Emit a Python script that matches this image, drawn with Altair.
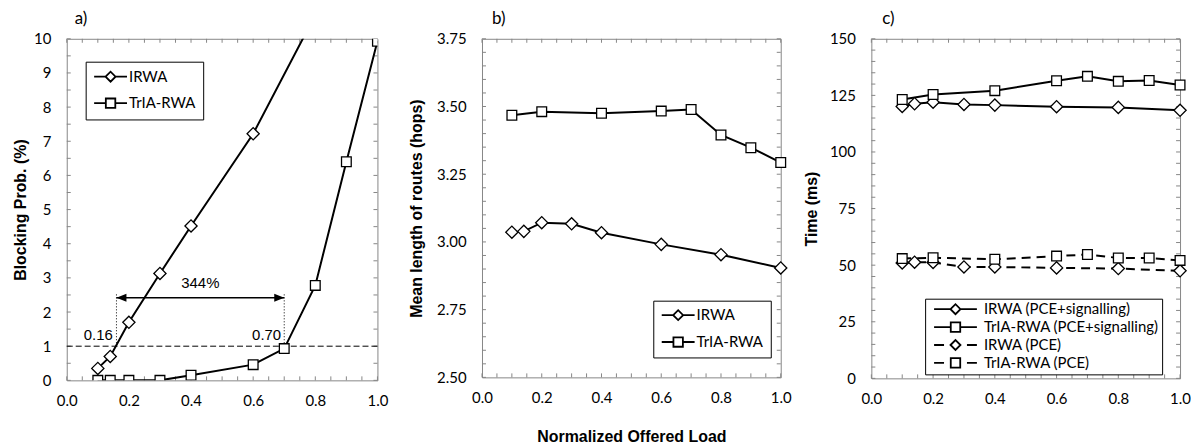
import altair as alt
import pandas as pd

# ---------------- data ----------------
series_ab = ["IRWA", "TrIA-RWA"]
series_c = ["IRWA (PCE+signalling)", "TrIA-RWA (PCE+signalling)", "IRWA (PCE)", "TrIA-RWA (PCE)"]

a_irwa_x = [0.1, 0.14, 0.2, 0.3, 0.4, 0.6, 0.8]
a_irwa_y = [0.35, 0.70, 1.70, 3.13, 4.52, 7.22, 10.7]
a_tria_x = [0.1, 0.14, 0.2, 0.3, 0.4, 0.6, 0.7, 0.8, 0.9, 1.0]
a_tria_y = [0.0, 0.0, 0.0, 0.0, 0.15, 0.46, 0.93, 2.78, 6.40, 9.93]
a_threshold = 1.0
a_marks_x = [0.16, 0.70]
a_marks_text = ["0.16", "0.70"]
a_gain_text = "344%"

b_irwa_x = [0.1, 0.14, 0.2, 0.3, 0.4, 0.6, 0.8, 1.0]
b_irwa_y = [3.036, 3.039, 3.071, 3.067, 3.034, 2.991, 2.953, 2.904]
b_tria_x = [0.1, 0.2, 0.4, 0.6, 0.7, 0.8, 0.9, 1.0]
b_tria_y = [3.468, 3.481, 3.475, 3.483, 3.489, 3.395, 3.348, 3.293]

c_irwa_x = [0.1, 0.14, 0.2, 0.3, 0.4, 0.6, 0.8, 1.0]
c_irwa_sig = [120.1, 121.3, 122.0, 121.0, 120.7, 120.0, 119.7, 118.4]
c_irwa_pce = [51.0, 51.3, 51.2, 49.2, 49.2, 48.8, 48.5, 47.5]
c_tria_x = [0.1, 0.2, 0.4, 0.6, 0.7, 0.8, 0.9, 1.0]
c_tria_sig = [123.2, 125.4, 127.1, 131.5, 133.4, 131.2, 131.6, 129.6]
c_tria_pce = [52.9, 53.3, 52.6, 54.0, 54.7, 53.2, 53.2, 52.1]

x_major = [0.0, 0.2, 0.4, 0.6, 0.8, 1.0]
x_minor = [round(0.05 * i, 2) for i in range(21)]
a_y_major = [0, 1, 2, 3, 4, 5, 6, 7, 8, 9, 10]
a_y_minor = [0.5 * i for i in range(21)]
b_y_major = [2.5, 2.75, 3.0, 3.25, 3.5, 3.75]
b_y_minor = [round(2.5 + 0.05 * i, 2) for i in range(26)]
c_y_major = [0, 25, 50, 75, 100, 125, 150]
c_y_minor = [5 * i for i in range(31)]

GRAY = "#868686"
TICK = 4

leg_ab_paths = ["M-3.3,0H-1M1,0H3.3M-1,0L0,-1L1,0L0,1Z",
                "M-3.3,0H-0.95M0.95,0H3.3M-0.95,-0.95H0.95V0.95H-0.95Z"]
leg_c_paths = ["M-4.3,0H-1M1,0H4.3M-1,0L0,-1L1,0L0,1Z",
               "M-4.3,0H-0.95M0.95,0H4.3M-0.95,-0.95H0.95V0.95H-0.95Z",
               "M-4.3,0H-2.3M2.3,0H4.3M-1,0L0,-1L1,0L0,1Z",
               "M-4.3,0H-2.3M2.3,0H4.3M-0.95,-0.95H0.95V0.95H-0.95Z"]


def long_df(pairs):
    rows = []
    for name, mk, xs, ys in pairs:
        for xv, yv in zip(xs, ys):
            rows.append({"x": xv, "y": yv, "s": name, "mk": mk})
    return pd.DataFrame(rows)


def label_expr(major, fmt):
    return "indexof(%s, datum.value) >= 0 ? format(datum.value, '%s') : ''" % (str(major), fmt)


def axis_bottom(w, title=None):
    kw = dict(orient="bottom", values=x_major, labelExpr=label_expr(x_major, ".1f"),
              ticks=False, domain=False, grid=False, labelPadding=13, labelOverlap=False,
              labelFlush=False, title=title)
    if title:
        kw.update(titleX=w / 2, titleY=51, titleBaseline="top", titleAlign="center")
    return alt.Axis(**kw)


def axis_left(major, fmt, title, tx, h):
    return alt.Axis(orient="left", values=major, labelExpr=label_expr(major, fmt),
                    ticks=False, domain=False, grid=False, labelPadding=16,
                    labelOverlap=False, labelFlush=False, title=title,
                    titleX=tx, titleY=h / 2, titleAngle=270, titleAlign="center",
                    titleBaseline="middle")


XS = alt.Scale(domain=[0, 1], nice=False, zero=False)
MK_SHAPE = alt.Scale(domain=["diamond", "square"], range=["diamond", "square"])
MK_SIZE = alt.Scale(domain=["diamond", "square"], range=[150, 95])


def tick_layers(ys, y_minor, w, h):
    """Excel-style inward ticks on all four sides."""
    dx = pd.DataFrame({"v": x_minor})
    dy = pd.DataFrame({"v": y_minor})
    base = dict(color=GRAY, strokeWidth=1, opacity=1)
    xe = alt.X("v:Q", scale=XS, axis=None)
    ye = alt.Y("v:Q", scale=ys, axis=None)
    bottom = alt.Chart(dx).mark_rule(**base).encode(x=xe, y=alt.value(h - TICK), y2=alt.value(h))
    top = alt.Chart(dx).mark_rule(**base).encode(x=xe, y=alt.value(0), y2=alt.value(TICK))
    left = alt.Chart(dy).mark_rule(**base).encode(y=ye, x=alt.value(0), x2=alt.value(TICK))
    right = alt.Chart(dy).mark_rule(**base).encode(y=ye, x=alt.value(w - TICK), x2=alt.value(w))
    return [bottom, top, left, right]


def legend_layer(field, labels, paths, lx, ly, pad, row_pad, sym_off, lab_off, fs):
    df = pd.DataFrame({field: labels})
    return alt.Chart(df).transform_filter("false").mark_point(
        filled=False, color="black", strokeWidth=1.8, opacity=1
    ).encode(
        shape=alt.Shape(f"{field}:N", scale=alt.Scale(domain=labels, range=paths),
                        legend=alt.Legend(title=None, orient="none", legendX=lx, legendY=ly,
                                          padding=pad, rowPadding=row_pad,
                                          symbolOffset=sym_off, labelOffset=lab_off,
                                          labelFont="Lato", labelFontSize=fs, labelLimit=400,
                                          labelColor="black", strokeColor="black",
                                          fillColor="white", symbolSize=100,
                                          symbolStrokeWidth=1.8))
    )


def title_params(t, dx):
    return alt.TitleParams(t, anchor="start", frame="group", dx=dx, font="Lato",
                           fontSize=17, fontWeight="normal", color="black", offset=4)


def points_layer(df, ys, clip=False):
    return alt.Chart(df).mark_point(filled=True, fill="white", stroke="black", strokeWidth=1.3,
                                    opacity=1, clip=clip).encode(
        x=alt.X("x:Q", scale=XS, axis=None),
        y=alt.Y("y:Q", scale=ys, axis=None),
        shape=alt.Shape("mk:N", scale=MK_SHAPE, legend=None),
        size=alt.Size("mk:N", scale=MK_SIZE, legend=None))


# ---------------- panel a ----------------
WA, HA = 312, 343
ysa = alt.Scale(domain=[0, 10], nice=False)
dfa = long_df([("IRWA", "diamond", a_irwa_x, a_irwa_y),
               ("TrIA-RWA", "square", a_tria_x, a_tria_y)])

a_lines = alt.Chart(dfa).mark_line(color="black", strokeWidth=2, clip=True).encode(
    x=alt.X("x:Q", scale=XS, axis=axis_bottom(WA)),
    y=alt.Y("y:Q", scale=ysa, axis=axis_left(a_y_major, "d", "Blocking Prob. (%)", -46.7, HA)),
    detail="s:N")
a_points = points_layer(dfa, ysa, clip=True)

a_hline = alt.Chart(pd.DataFrame({"y": [a_threshold]})).mark_rule(
    color="black", strokeDash=[6, 3], strokeWidth=1).encode(y=alt.Y("y:Q", scale=ysa, axis=None))
a_vl = alt.Chart(pd.DataFrame({"x": a_marks_x, "y": [a_threshold] * 2, "y2": [2.56, 2.56]})).mark_rule(
    color="black", strokeDash=[1, 2], strokeWidth=1).encode(
    x=alt.X("x:Q", scale=XS, axis=None), y=alt.Y("y:Q", scale=ysa, axis=None), y2="y2:Q")
a_arrow = alt.Chart(pd.DataFrame({"x": [a_marks_x[0]], "x2": [a_marks_x[1]], "y": [2.42]})).mark_rule(
    color="black", strokeWidth=1.5).encode(
    x=alt.X("x:Q", scale=XS, axis=None), x2="x2:Q", y=alt.Y("y:Q", scale=ysa, axis=None))
a_head_l = alt.Chart(pd.DataFrame({"x": [a_marks_x[0]], "y": [2.42]})).mark_point(
    shape="M-1,0L1,-0.8L1,0.8Z", filled=True, color="black", opacity=1, size=100, xOffset=5).encode(
    x=alt.X("x:Q", scale=XS, axis=None), y=alt.Y("y:Q", scale=ysa, axis=None))
a_head_r = alt.Chart(pd.DataFrame({"x": [a_marks_x[1]], "y": [2.42]})).mark_point(
    shape="M1,0L-1,-0.8L-1,0.8Z", filled=True, color="black", opacity=1, size=100, xOffset=-5).encode(
    x=alt.X("x:Q", scale=XS, axis=None), y=alt.Y("y:Q", scale=ysa, axis=None))
a_gain = alt.Chart(pd.DataFrame({"x": [0.43], "y": [2.85], "t": [a_gain_text]})).mark_text(
    font="Liberation Sans", fontSize=15, color="black", align="center", baseline="middle").encode(
    x=alt.X("x:Q", scale=XS, axis=None), y=alt.Y("y:Q", scale=ysa, axis=None), text="t:N")
a_lbl = alt.Chart(pd.DataFrame({"x": [0.148, 0.69], "y": [1.32, 1.32], "t": a_marks_text})).mark_text(
    font="Liberation Sans", fontSize=15, color="black", align="right", baseline="middle").encode(
    x=alt.X("x:Q", scale=XS, axis=None), y=alt.Y("y:Q", scale=ysa, axis=None), text="t:N")
a_leg = legend_layer("la", series_ab, leg_ab_paths, 19, 23, 7.5, 8.7, 10, 11, 15)

panel_a = alt.layer(*tick_layers(ysa, a_y_minor, WA, HA), a_hline, a_vl, a_arrow, a_head_l, a_head_r,
                    a_lines, a_points, a_gain, a_lbl, a_leg).resolve_axis(
    x="independent", y="independent").resolve_scale(shape="independent").properties(
    width=WA, height=HA, title=title_params("a)", 8))

# ---------------- panel b ----------------
WB, HB = 300, 340
ysb = alt.Scale(domain=[2.5, 3.75], nice=False, zero=False)
dfb = long_df([("IRWA", "diamond", b_irwa_x, b_irwa_y),
               ("TrIA-RWA", "square", b_tria_x, b_tria_y)])
b_lines = alt.Chart(dfb).mark_line(color="black", strokeWidth=2).encode(
    x=alt.X("x:Q", scale=XS, axis=axis_bottom(WB, "Normalized Offered Load")),
    y=alt.Y("y:Q", scale=ysb, axis=axis_left(b_y_major, ".2f", "Mean length of routes (hops)", -65.9, HB)),
    detail="s:N")
b_points = points_layer(dfb, ysb)
b_leg = legend_layer("lb", series_ab, leg_ab_paths, 172, 263, 7, 9, 10.5, 11, 15)
panel_b = alt.layer(*tick_layers(ysb, b_y_minor, WB, HB), b_lines, b_points, b_leg).resolve_axis(
    x="independent", y="independent").resolve_scale(shape="independent").properties(
    width=WB, height=HB, title=title_params("b)", 10))

# ---------------- panel c ----------------
WC, HC = 310, 341
ysc = alt.Scale(domain=[0, 150], nice=False)
dfc_sig = long_df([(series_c[0], "diamond", c_irwa_x, c_irwa_sig),
                   (series_c[1], "square", c_tria_x, c_tria_sig)])
dfc_pce = long_df([(series_c[2], "diamond", c_irwa_x, c_irwa_pce),
                   (series_c[3], "square", c_tria_x, c_tria_pce)])
dfc = pd.concat([dfc_sig, dfc_pce], ignore_index=True)
c_sig = alt.Chart(dfc_sig).mark_line(color="black", strokeWidth=2).encode(
    x=alt.X("x:Q", scale=XS, axis=axis_bottom(WC)),
    y=alt.Y("y:Q", scale=ysc, axis=axis_left(c_y_major, "d", "Time (ms)", -60, HC)),
    detail="s:N")
c_pce = alt.Chart(dfc_pce).mark_line(color="black", strokeWidth=2, strokeDash=[9, 6]).encode(
    x=alt.X("x:Q", scale=XS, axis=None), y=alt.Y("y:Q", scale=ysc, axis=None), detail="s:N")
c_points = points_layer(dfc, ysc)
c_leg = legend_layer("lc", series_c, leg_c_paths, 54, 261, 3, 0, 20, 21, 15)
panel_c = alt.layer(*tick_layers(ysc, c_y_minor, WC, HC), c_sig, c_pce, c_points, c_leg).resolve_axis(
    x="independent", y="independent").resolve_scale(shape="independent").properties(
    width=WC, height=HC, title=title_params("c)", 11))

left = alt.hconcat(panel_a, panel_b, spacing=19).resolve_scale(shape="independent", size="independent").resolve_legend(shape="independent")
chart = alt.hconcat(left, panel_c, spacing=11).resolve_scale(
    shape="independent", size="independent").resolve_legend(shape="independent").properties(
    padding={"left": 3, "top": 0, "right": 0, "bottom": 0}
).configure_view(stroke=GRAY, strokeWidth=1).configure_axis(
    labelColor="black", labelFont="Lato", labelFontSize=15,
    titleFont="Liberation Sans", titleFontSize=16, titleFontWeight="bold", titleColor="black"
)

chart.save("out.html", embed_options={"renderer": "svg", "actions": False})
